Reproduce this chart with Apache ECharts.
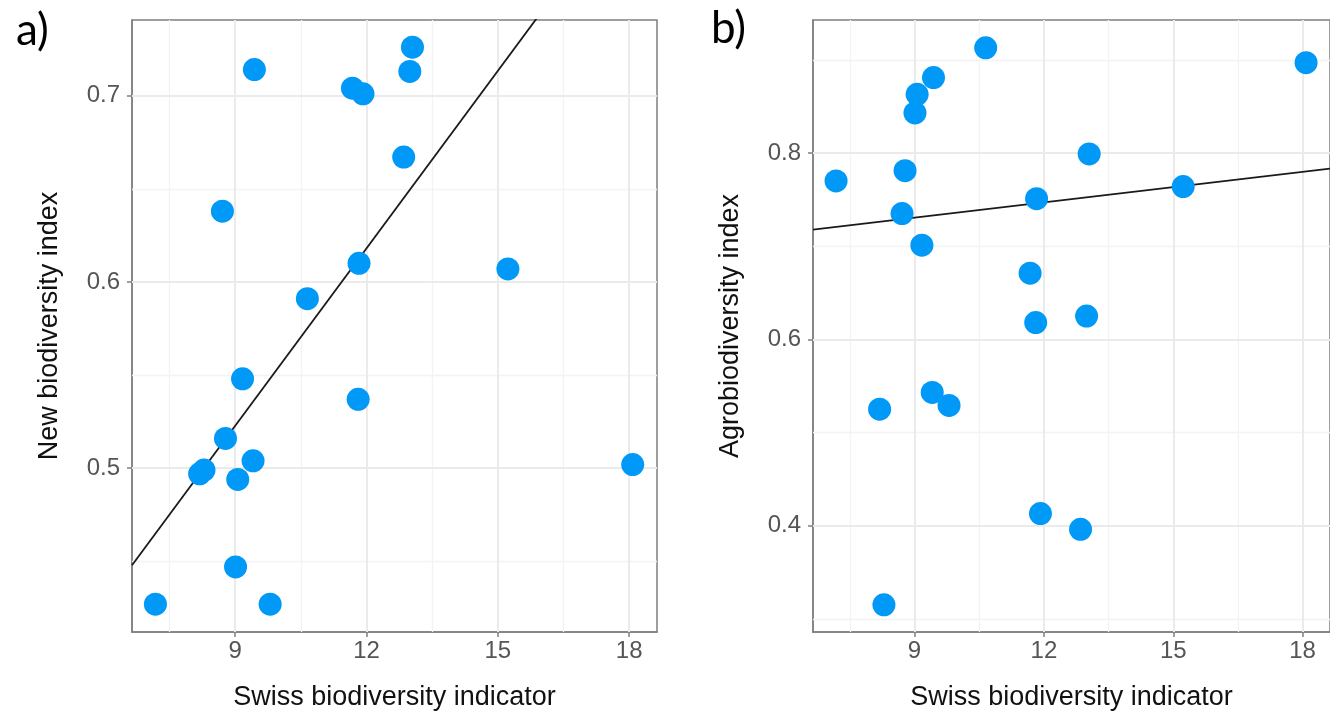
<!DOCTYPE html>
<html><head><meta charset="utf-8">
<script src="https://cdn.jsdelivr.net/npm/echarts@6/dist/echarts.min.js"></script>
<style>html,body{margin:0;padding:0;background:#fff;}#chart{width:1330px;height:716px;}</style>
</head><body><div id="chart"></div>
<script>
// Shared x values (Swiss biodiversity indicator), one per region
const swissIndicator = [7.18, 8.19, 8.29, 8.71, 8.78, 9.01, 9.06, 9.17, 9.41, 9.44, 9.80,
  10.65, 11.68, 11.81, 11.83, 11.92, 12.85, 12.99, 13.05, 15.23, 18.08];
// Panel a) New biodiversity index
const newBiodiversity = [0.427, 0.497, 0.499, 0.638, 0.516, 0.447, 0.494, 0.548, 0.504, 0.714, 0.427,
  0.591, 0.704, 0.537, 0.610, 0.701, 0.667, 0.713, 0.726, 0.607, 0.502];
// Panel b) Agrobiodiversity index
const agroBiodiversity = [0.770, 0.525, 0.315, 0.735, 0.781, 0.843, 0.863, 0.701, 0.543, 0.881, 0.529,
  0.913, 0.671, 0.618, 0.751, 0.413, 0.396, 0.625, 0.799, 0.764, 0.897];

// Fitted lines
const fitA = { intercept: 0.2369, slope: 0.03176 };
const fitB = { intercept: 0.6814, slope: 0.00547 };

// Tick labels and grid values
const xTicks = [9, 12, 15, 18];
const xMinorTicks = [7.5, 10.5, 13.5, 16.5];
const yTicksA = [0.5, 0.6, 0.7];
const yMinorA = [0.45, 0.55, 0.65];
const yTicksB = [0.4, 0.6, 0.8];
const yMinorB = [0.3, 0.5, 0.7, 0.9];

// Axis limits
const xRange = [6.645, 18.635];
const yRangeA = [0.4121, 0.7406];
const yRangeB = [0.2858, 0.9428];

const xTitle = 'Swiss biodiversity indicator';
const yTitleA = 'New biodiversity index';
const yTitleB = 'Agrobiodiversity index';

const BORDER = '#7f7f7f';
const LABEL = '#555555';
const DOT = '#0099f7';
const FONT = '"Liberation Sans", Arial, sans-serif';

function zip(xs, ys) { return xs.map((x, i) => [x, ys[i]]); }
function fitLine(fit) { return xRange.map(x => [x, fit.intercept + fit.slope * x]); }

function gridMarks(xMaj, xMin, yMaj, yMin) {
  const maj = { color: '#ebebeb', width: 2, type: 'solid' };
  const min = { color: '#f3f3f3', width: 1.3, type: 'solid' };
  const d = [];
  xMin.forEach(v => d.push({ xAxis: v, lineStyle: min }));
  yMin.forEach(v => d.push({ yAxis: v, lineStyle: min }));
  xMaj.forEach(v => d.push({ xAxis: v, lineStyle: maj }));
  yMaj.forEach(v => d.push({ yAxis: v, lineStyle: maj }));
  return {
    silent: true, symbol: ['none', 'none'], label: { show: false }, z: 1,
    animation: false, emphasis: { disabled: true }, data: d
  };
}

function xAxisDef(gi) {
  return {
    type: 'value', gridIndex: gi, min: xRange[0], max: xRange[1],
    name: xTitle, nameLocation: 'middle', nameGap: 52,
    nameTextStyle: { fontFamily: FONT, fontSize: 27, color: '#111' },
    axisLine: { show: true, lineStyle: { color: BORDER, width: 1.5 } },
    axisTick: { show: true, length: 5, lineStyle: { color: BORDER, width: 1.5 }, customValues: xTicks },
    axisLabel: { customValues: xTicks, margin: 7, fontFamily: FONT, fontSize: 24, color: LABEL },
    splitLine: { show: false }
  };
}
function yAxisDef(gi, range, ticks, title) {
  return {
    type: 'value', gridIndex: gi, min: range[0], max: range[1],
    name: title, nameLocation: 'middle', nameGap: 69, nameRotate: 90,
    nameTextStyle: { fontFamily: FONT, fontSize: 27, color: '#111' },
    axisLine: { show: true, lineStyle: { color: BORDER, width: 1.5 } },
    axisTick: { show: true, length: 5, lineStyle: { color: BORDER, width: 1.5 }, customValues: ticks },
    axisLabel: { customValues: ticks, margin: 12, fontFamily: FONT, fontSize: 24, color: LABEL,
      formatter: v => String(+v.toFixed(2)) },
    splitLine: { show: false }
  };
}

const chart = echarts.init(document.getElementById('chart'), null, { renderer: 'canvas' });
chart.setOption({
  animation: false,
  backgroundColor: '#fff',
  title: [
    { text: 'a)', left: 11, top: 4, textStyle: { fontFamily: 'Lato, "Open Sans", sans-serif', fontSize: 44, fontWeight: 'normal', color: '#000' } },
    { text: 'b)', left: 706, top: 2, textStyle: { fontFamily: 'Lato, "Open Sans", sans-serif', fontSize: 44, fontWeight: 'normal', color: '#000' } }
  ],
  grid: [
    { left: 132, top: 20, width: 525, height: 613, show: true, borderColor: BORDER, borderWidth: 1.5, backgroundColor: 'transparent' },
    { left: 813, top: 20, width: 527, height: 613, show: true, borderColor: BORDER, borderWidth: 1.5, backgroundColor: 'transparent' }
  ],
  xAxis: [xAxisDef(0), xAxisDef(1)],
  yAxis: [yAxisDef(0, yRangeA, yTicksA, yTitleA), yAxisDef(1, yRangeB, yTicksB, yTitleB)],
  series: [
    { type: 'line', xAxisIndex: 0, yAxisIndex: 0, data: fitLine(fitA), showSymbol: false, clip: true, z: 2,
      lineStyle: { color: '#1a1a1a', width: 1.8 }, silent: true,
      markLine: gridMarks(xTicks, xMinorTicks, yTicksA, yMinorA) },
    { type: 'scatter', xAxisIndex: 0, yAxisIndex: 0, data: zip(swissIndicator, newBiodiversity), z: 3,
      symbol: 'circle', symbolSize: 23, itemStyle: { color: DOT, opacity: 1 } },
    { type: 'line', xAxisIndex: 1, yAxisIndex: 1, data: fitLine(fitB), showSymbol: false, clip: true, z: 2,
      lineStyle: { color: '#1a1a1a', width: 1.8 }, silent: true,
      markLine: gridMarks(xTicks, xMinorTicks, yTicksB, yMinorB) },
    { type: 'scatter', xAxisIndex: 1, yAxisIndex: 1, data: zip(swissIndicator, agroBiodiversity), z: 3,
      symbol: 'circle', symbolSize: 23, itemStyle: { color: DOT, opacity: 1 } }
  ]
});
</script>
</body></html>
